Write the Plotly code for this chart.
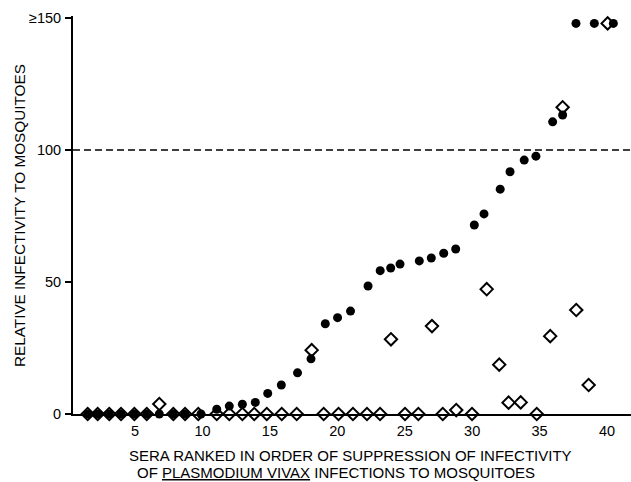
import plotly.graph_objects as go

# Sera ranked 1..40; positions (rank axis as drawn)
filled_x = [1.49, 2.23, 3.09, 3.96, 4.95, 5.87, 6.80, 7.84, 8.71, 9.89,
            11.06, 11.99, 12.96, 13.92, 14.84, 15.85, 17.05, 18.05, 19.11, 20.02,
            20.98, 22.28, 23.18, 23.96, 24.65, 26.08, 26.97, 27.89, 28.78, 30.16,
            30.88, 32.08, 32.81, 33.86, 34.73, 35.97, 36.71, 37.70, 39.06, 40.47]
filled_y = [0, 0, 0, 0, 0, 0, 0, 0, 0, 0,
            1.8, 3.0, 3.7, 4.4, 7.8, 11.0, 15.6, 20.9, 34.2, 36.5,
            39.0, 48.5, 54.3, 55.3, 56.8, 58.0, 59.1, 60.9, 62.5, 71.6,
            75.8, 85.2, 91.8, 96.2, 97.7, 110.7, 113.3, 148, 148, 148]

open_x = [1.49, 2.23, 3.09, 3.96, 4.95, 5.87, 6.80, 7.84, 8.71, 9.69,
          11.06, 11.99, 12.96, 13.84, 14.77, 15.88, 16.99, 18.10, 18.99, 20.09,
          21.16, 22.20, 23.17, 23.98, 25.02, 26.01, 27.02, 27.82, 28.82, 29.99,
          31.08, 32.01, 32.70, 33.60, 34.79, 35.79, 36.71, 37.72, 38.64, 40.05]
open_y = [0, 0, 0, 0, 0, 0, 3.8, 0, 0, 0,
          0, 0, 0, 0, 0, 0, 0, 24.2, 0, 0,
          0, 0, 0, 28.3, 0, 0, 33.3, 0, 1.5, 0,
          47.3, 18.7, 4.3, 4.4, 0, 29.5, 116.2, 39.4, 11.0, 148]

x_ticks = [5, 10, 15, 20, 25, 30, 35, 40]
y_ticks = [0, 50, 100, 150]
y_ticktext = ["0", "50", "100", "≥150"]
ref_level = 100

FONT = "Liberation Sans, Arial, Helvetica, sans-serif"

fig = go.Figure()
fig.add_trace(go.Scatter(
    x=filled_x, y=filled_y, mode="markers", cliponaxis=False,
    marker=dict(symbol="circle", size=9, color="black", line=dict(width=0)),
    showlegend=False))
fig.add_trace(go.Scatter(
    x=open_x, y=open_y, mode="markers", cliponaxis=False,
    marker=dict(symbol="diamond-open", size=9.5, color="black", line=dict(width=2)),
    showlegend=False))

fig.add_shape(type="line", xref="paper", x0=0, x1=1, yref="y", y0=ref_level, y1=ref_level,
              line=dict(color="black", width=1.6, dash="7px,4px"))

fig.add_annotation(text="SERA RANKED IN ORDER OF SUPPRESSION OF INFECTIVITY",
                   xref="paper", yref="paper", x=(350 - 73) / 558, y=-(455 - 414) / 398,
                   xanchor="center", yanchor="middle", showarrow=False,
                   font=dict(family=FONT, size=15, color="black"))
fig.add_annotation(text="OF <u>PLASMODIUM VIVAX</u> INFECTIONS TO MOSQUITOES",
                   xref="paper", yref="paper", x=(336 - 73) / 558, y=-(472 - 414) / 398,
                   xanchor="center", yanchor="middle", showarrow=False,
                   font=dict(family=FONT, size=15, color="black"))
fig.add_annotation(text="RELATIVE INFECTIVITY TO MOSQUITOES",
                   xref="paper", yref="paper", x=-(73 - 20) / 558, y=(414 - 216) / 398,
                   xanchor="center", yanchor="middle", showarrow=False, textangle=-90,
                   font=dict(family=FONT, size=15.3, color="black"))

fig.update_layout(
    width=631, height=482,
    margin=dict(l=73, r=0, t=16, b=68),
    paper_bgcolor="white", plot_bgcolor="white",
    font=dict(family=FONT, size=14.5, color="black"),
    xaxis=dict(range=[0.4, 41.78], tickvals=x_ticks, ticks="", showgrid=False,
               zeroline=False, showline=True, linecolor="black", linewidth=1.6,
               ticklabelstandoff=3, fixedrange=True),
    yaxis=dict(range=[0, 150.8], tickvals=y_ticks, ticktext=y_ticktext,
               ticks="outside", ticklen=6, tickwidth=1.5, tickcolor="black",
               showgrid=False, zeroline=False, showline=True, linecolor="black",
               linewidth=2, ticklabelstandoff=1, fixedrange=True),
)

fig.write_html("out.html", config={"displayModeBar": False},
               post_script="document.body.style.margin='0';document.body.style.overflow='hidden';")
